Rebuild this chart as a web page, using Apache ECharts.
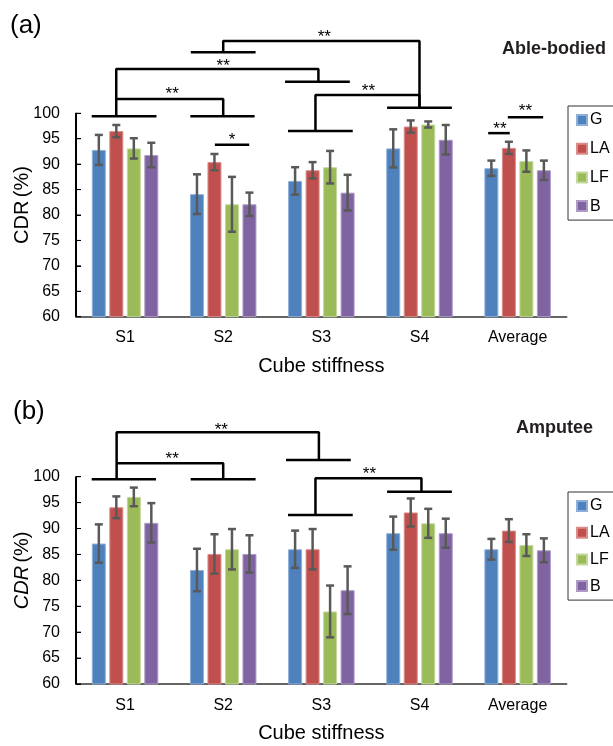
<!DOCTYPE html>
<html>
<head>
<meta charset="utf-8">
<script src="https://cdn.jsdelivr.net/npm/echarts@6/dist/echarts.min.js"></script>
<style>
  html, body { margin: 0; padding: 0; background: #fff; }
  #main { width: 613px; height: 746px; }
</style>
</head>
<body>
<div id="main"></div>
<script>
// 数据
var categories = ['S1', 'S2', 'S3', 'S4', 'Average'];
var groupNames = ['G', 'LA', 'LF', 'B'];
var yTicks = [60, 65, 70, 75, 80, 85, 90, 95, 100];

// (a) Able-bodied
var ableG = [92.8, 84.1, 86.7, 93.1, 89.2];
var ableLA = [96.5, 90.4, 88.8, 97.4, 93.2];
var ableLF = [93.1, 82.1, 89.4, 97.8, 90.6];
var ableB = [91.8, 82.1, 84.4, 94.8, 88.8];
var ableGErr = [2.95, 3.9, 2.7, 3.75, 1.5];
var ableLAErr = [1.2, 1.6, 1.6, 1.2, 1.2];
var ableLFErr = [2.0, 5.4, 3.2, 0.6, 2.1];
var ableBErr = [2.4, 2.3, 3.5, 2.9, 1.9];

// (b) Amputee
var ampG = [87.1, 82.0, 86.0, 89.1, 86.0];
var ampLA = [94.1, 85.1, 86.0, 93.1, 89.6];
var ampLF = [96.1, 86.0, 74.0, 91.0, 86.8];
var ampB = [91.1, 85.1, 78.1, 89.1, 85.8];
var ampGErr = [3.7, 4.1, 3.6, 3.2, 2.0];
var ampLAErr = [2.1, 3.8, 3.9, 2.7, 2.2];
var ampLFErr = [1.8, 3.9, 5.0, 2.8, 2.1];
var ampBErr = [3.8, 3.6, 4.6, 2.8, 2.3];

// 显著性括号 (x: category index units, y: CDR value)
var bracketsA = [
  [[1, 112.0], [1, 114.2], [3, 114.2], [3, 101.1]],
  [[0.67, 112.0], [1.33, 112.0]],
  [[-0.09, 99.4], [-0.09, 108.7], [1.97, 108.7], [1.97, 106.2]],
  [[1.63, 106.2], [2.29, 106.2]],
  [[-0.09, 102.8], [1.0, 102.8], [1.0, 99.4]],
  [[-0.34, 99.4], [0.32, 99.4]],
  [[0.665, 99.4], [1.32, 99.4]],
  [[1.94, 96.5], [1.94, 103.6], [3.0, 103.6], [3.0, 101.1]],
  [[1.66, 96.5], [2.32, 96.5]],
  [[2.67, 101.1], [3.33, 101.1]],
  [[0.915, 93.8], [1.265, 93.8]],
  [[3.70, 96.1], [3.92, 96.1]],
  [[3.90, 99.2], [4.26, 99.2]]
];
var starsAX = [2.03, 1.0, 0.48, 2.48, 1.09, 3.82, 4.08];
var starsAY = [115.6, 109.8, 104.4, 104.9, 95.3, 97.4, 101.0];
var starsAText = ['**', '**', '**', '**', '*', '**', '**'];

var bracketsB = [
  [[-0.086, 99.5], [-0.086, 108.6], [1.975, 108.6], [1.975, 103.2]],
  [[1.64, 103.2], [2.30, 103.2]],
  [[-0.086, 102.6], [1.0, 102.6], [1.0, 99.5]],
  [[-0.34, 99.5], [0.315, 99.5]],
  [[0.668, 99.5], [1.33, 99.5]],
  [[1.94, 92.6], [1.94, 99.7], [3.02, 99.7], [3.02, 97.1]],
  [[1.66, 92.6], [2.32, 92.6]],
  [[2.67, 97.1], [3.33, 97.1]]
];
var starsBX = [0.98, 0.48, 2.49];
var starsBY = [109.6, 104.0, 101.0];
var starsBText = ['**', '**', '**'];

// 样式
var FONT = "'Liberation Sans', Arial, sans-serif";
var colors = ['#4F81BD', '#C0504D', '#9BBB59', '#8064A2'];
var borders = ['#8DB0DA', '#DA8D8B', '#C3D89E', '#AE9BC6'];
var BAR_W = 14;
var BAR_GAP = 3.5;

(function () {
  var myChart = echarts.init(document.getElementById('main'));

  function yAxisOf(gridIndex, italic) {
    return {
      type: 'value', gridIndex: gridIndex, min: 60, max: 100, interval: 5,
      position: 'left',
      name: '{i|CDR} {n|(%)}', nameLocation: 'middle', nameRotate: 90, nameGap: 44,
      nameMoveOverlap: false,
      nameTextStyle: {
        padding: [0, 0, 0, 20],
        rich: {
          i: { fontFamily: FONT, fontSize: 20, fontStyle: italic ? 'italic' : 'normal', color: '#000' },
          n: { fontFamily: FONT, fontSize: 20, color: '#000' }
        }
      },
      splitLine: { show: false },
      axisLine: { show: true, lineStyle: { color: '#000', width: 1.5 } },
      axisTick: { show: true, inside: true, length: 5, lineStyle: { color: '#000', width: 1 } },
      axisLabel: {
        margin: 16, fontFamily: FONT, fontSize: 16, color: '#000',
        formatter: function (v) { return yTicks.indexOf(v) >= 0 ? String(v) : ''; }
      }
    };
  }

  function catAxisOf(gridIndex, margin, nameGap) {
    return {
      type: 'category', gridIndex: gridIndex, data: categories,
      name: 'Cube stiffness', nameLocation: 'middle', nameGap: nameGap,
      nameTextStyle: { fontFamily: FONT, fontSize: 20, color: '#000' },
      axisLine: { onZero: false, lineStyle: { color: '#333', width: 1.5 } },
      axisTick: { show: false },
      axisLabel: { margin: margin, fontFamily: FONT, fontSize: 16, color: '#000' }
    };
  }

  // 叠加网格上的隐藏坐标轴（画括号用）
  function hiddenX(gridIndex) {
    return { type: 'value', gridIndex: gridIndex, min: -0.5, max: 4.5, show: false };
  }
  function hiddenY(gridIndex) {
    return { type: 'value', gridIndex: gridIndex, min: 60, max: 100, show: false };
  }

  function barSeries(name, data, i, xi, yi) {
    return {
      name: name, type: 'bar', xAxisIndex: xi, yAxisIndex: yi,
      data: data, barWidth: BAR_W, barGap: '25%',
      itemStyle: { color: colors[i], borderColor: borders[i], borderWidth: 1 },
      z: 2
    };
  }

  function errSeries(vals, errs, i, xi, yi) {
    return {
      type: 'custom', xAxisIndex: xi, yAxisIndex: yi, z: 4, silent: true,
      data: vals.map(function (v, k) { return [k, v, errs[k]]; }),
      encode: { x: 0, y: 1 },
      renderItem: function (params, api) {
        var k = api.value(0), v = api.value(1), e = api.value(2);
        var off = (i - 1.5) * (BAR_W + BAR_GAP);
        var hi = api.coord([k, v + e]);
        var lo = api.coord([k, v - e]);
        var x = hi[0] + off;
        var st = { stroke: '#595959', lineWidth: 2.5 };
        return {
          type: 'group',
          children: [
            { type: 'line', shape: { x1: x, y1: hi[1], x2: x, y2: lo[1] }, style: st },
            { type: 'line', shape: { x1: x - 4, y1: hi[1], x2: x + 4, y2: hi[1] }, style: st },
            { type: 'line', shape: { x1: x - 4, y1: lo[1], x2: x + 4, y2: lo[1] }, style: st }
          ]
        };
      }
    };
  }

  function bracketSeries(list, xi, yi) {
    return list.map(function (pts) {
      return {
        type: 'line', xAxisIndex: xi, yAxisIndex: yi, data: pts,
        symbol: 'none', clip: false, silent: true, z: 5,
        lineStyle: { color: '#000', width: 2.5 }
      };
    });
  }

  // y 轴线与内侧刻度（叠加网格上用矩形画）
  function yAxisMarks(xi, yi) {
    return {
      type: 'custom', xAxisIndex: xi, yAxisIndex: yi, z: 8, silent: true, clip: false,
      data: yTicks.map(function (t) { return [-0.5, t]; }),
      encode: { x: 0, y: 1 },
      renderItem: function (params, api) {
        var p = api.coord([api.value(0), api.value(1)]);
        var children = [
          { type: 'rect', shape: { x: p[0], y: p[1] - 0.5, width: 5, height: 1 }, style: { fill: '#000' } }
        ];
        if (params.dataIndex === 0) {
          var top = api.coord([-0.5, yTicks[yTicks.length - 1]]);
          children.push({
            type: 'rect',
            shape: { x: p[0] - 1, y: top[1], width: 2, height: p[1] - top[1] },
            style: { fill: '#000' }
          });
        }
        return { type: 'group', children: children };
      }
    };
  }

  function starSeries(xs, ys, texts, xi, yi) {
    return {
      type: 'custom', xAxisIndex: xi, yAxisIndex: yi, z: 6, silent: true, clip: false,
      data: xs.map(function (x, k) { return [x, ys[k]]; }),
      encode: { x: 0, y: 1 },
      renderItem: function (params, api) {
        var p = api.coord([api.value(0), api.value(1)]);
        return {
          type: 'text', x: p[0], y: p[1] + 3,
          style: {
            text: texts[params.dataIndex], fontFamily: FONT, fontSize: 17, fill: '#000',
            align: 'center', verticalAlign: 'middle'
          }
        };
      }
    };
  }

  function legendOf(top, gap) {
    return {
      data: groupNames, orient: 'vertical', left: 568, top: top,
      itemWidth: 10, itemHeight: 10, itemGap: gap,
      padding: [6, 10, 6, 8],
      borderColor: '#333', borderWidth: 1, borderRadius: 0,
      icon: 'rect',
      textStyle: { fontFamily: FONT, fontSize: 16, color: '#000', padding: [0, 0, 0, -2] }
    };
  }

  var series = [];
  var ableVals = [ableG, ableLA, ableLF, ableB];
  var ableErrs = [ableGErr, ableLAErr, ableLFErr, ableBErr];
  var ampVals = [ampG, ampLA, ampLF, ampB];
  var ampErrs = [ampGErr, ampLAErr, ampLFErr, ampBErr];
  groupNames.forEach(function (n, i) {
    series.push(barSeries(n, ableVals[i], i, 0, 0));
    series.push(errSeries(ableVals[i], ableErrs[i], i, 0, 0));
    series.push(barSeries(n, ampVals[i], i, 1, 1));
    series.push(errSeries(ampVals[i], ampErrs[i], i, 1, 1));
  });
  series = series.concat(bracketSeries(bracketsA, 2, 2));
  series = series.concat(bracketSeries(bracketsB, 3, 3));
  series.push(starSeries(starsAX, starsAY, starsAText, 2, 2));
  series.push(starSeries(starsBX, starsBY, starsBText, 3, 3));
  series.push(yAxisMarks(2, 2), yAxisMarks(3, 3));

  var gridA = { left: 76, top: 113.3, width: 490.7, height: 203.4, containLabel: false, outerBoundsMode: 'none' };
  var gridB = { left: 76, top: 476.7, width: 490.7, height: 207.3, containLabel: false, outerBoundsMode: 'none' };

  var option = {
    backgroundColor: '#fff',
    animation: false,
    title: [
      { text: '(a)', left: 5, top: 8, textStyle: { fontFamily: FONT, fontSize: 26, fontWeight: 'normal', color: '#000' } },
      { text: 'Able-bodied', left: 497, top: 35, textStyle: { fontFamily: FONT, fontSize: 18, fontWeight: 'bold', color: '#231F20' } },
      { text: '(b)', left: 8, top: 394, textStyle: { fontFamily: FONT, fontSize: 26, fontWeight: 'normal', color: '#000' } },
      { text: 'Amputee', left: 511, top: 414, textStyle: { fontFamily: FONT, fontSize: 18, fontWeight: 'bold', color: '#231F20' } }
    ],
    legend: [legendOf(106, 12.7), legendOf(492, 10.7)],
    grid: [gridA, gridB, Object.assign({}, gridA), Object.assign({}, gridB)],
    xAxis: [catAxisOf(0, 13, 40), catAxisOf(1, 14, 39), hiddenX(2), hiddenX(3)],
    yAxis: [yAxisOf(0, false), yAxisOf(1, true), hiddenY(2), hiddenY(3)],
    series: series
  };

  myChart.setOption(option);
  window.addEventListener('resize', function () {
    myChart.resize();
  });
})();
</script>
</body>
</html>
